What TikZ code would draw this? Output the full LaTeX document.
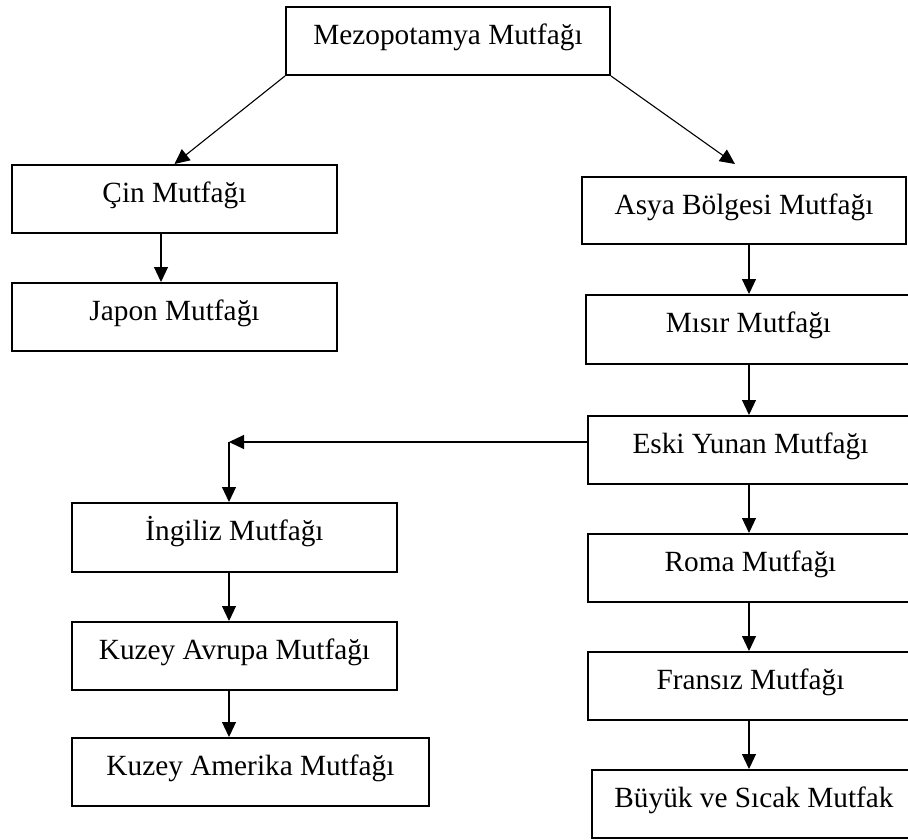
\documentclass[tikz,border=0pt]{standalone}
\usepackage{fontspec}
\setmainfont{Liberation Serif}
\usetikzlibrary{arrows.meta}
\begin{document}
\begin{tikzpicture}[x=1pt,y=-1pt,
  box/.style={draw, line width=2pt, inner sep=0pt, anchor=north west,
    text height=37.5pt, text depth=30.5pt, minimum width=325pt,
    font=\fontsize{29.3}{35}\selectfont},
  arr/.style={-{Triangle[length=15pt,width=14pt]}, line width=1.1pt}]
\clip (0,0) rectangle (908,839);
\fill[white] (0,0) rectangle (908,839);
% nodes
\node[box, minimum width=324pt] (mezo) at (285,6) {Mezopotamya Mutfağı};
\node[box] (cin) at (11,164) {Çin Mutfağı};
\node[box] (japon) at (11,282) {Japon Mutfağı};
\node[box, minimum width=324pt, text depth=29.5pt] (asya) at (581,176) {Asya Bölgesi Mutfağı};
\node[box, text depth=31.5pt] (misir) at (585,294) {Mısır Mutfağı};
\node[box] (eski) at (587,415) {Eski Yunan Mutfağı};
\node[box] (roma) at (587,533) {Roma Mutfağı};
\node[box] (fransiz) at (587,651) {Fransız Mutfağı};
\node[box, minimum width=324pt] (buyuk) at (591,769) {Büyük ve Sıcak Mutfak};
\node[box, text depth=31pt] (ingiliz) at (71,502) {İngiliz Mutfağı};
\node[box] (kav) at (71,621) {Kuzey Avrupa Mutfağı};
\node[box, minimum width=357pt] (kam) at (71,737) {Kuzey Amerika Mutfağı};
% helper coordinates
\coordinate (asyatip) at (735,164);
\coordinate (lc) at (161,0);
\coordinate (rc) at (749,0);
\coordinate (turn) at (229,442);
% connectors
\draw[arr] (mezo.south west) -- (cin.north);
\draw[arr] (mezo.south east) -- (asyatip);
\draw[arr] (lc |- cin.south) -- (lc |- japon.north);
\draw[arr] (rc |- asya.south) -- (rc |- misir.north);
\draw[arr] (rc |- misir.south) -- (rc |- eski.north);
\draw[arr] (rc |- eski.south) -- (rc |- roma.north);
\draw[arr] (rc |- roma.south) -- (rc |- fransiz.north);
\draw[arr] (rc |- fransiz.south) -- (rc |- buyuk.north);
\draw[arr] (turn -| eski.west) -- (turn);
\draw[arr] (turn) -- (turn |- ingiliz.north);
\draw[arr] (turn |- ingiliz.south) -- (turn |- kav.north);
\draw[arr] (turn |- kav.south) -- (turn |- kam.north);
\end{tikzpicture}
\end{document}
